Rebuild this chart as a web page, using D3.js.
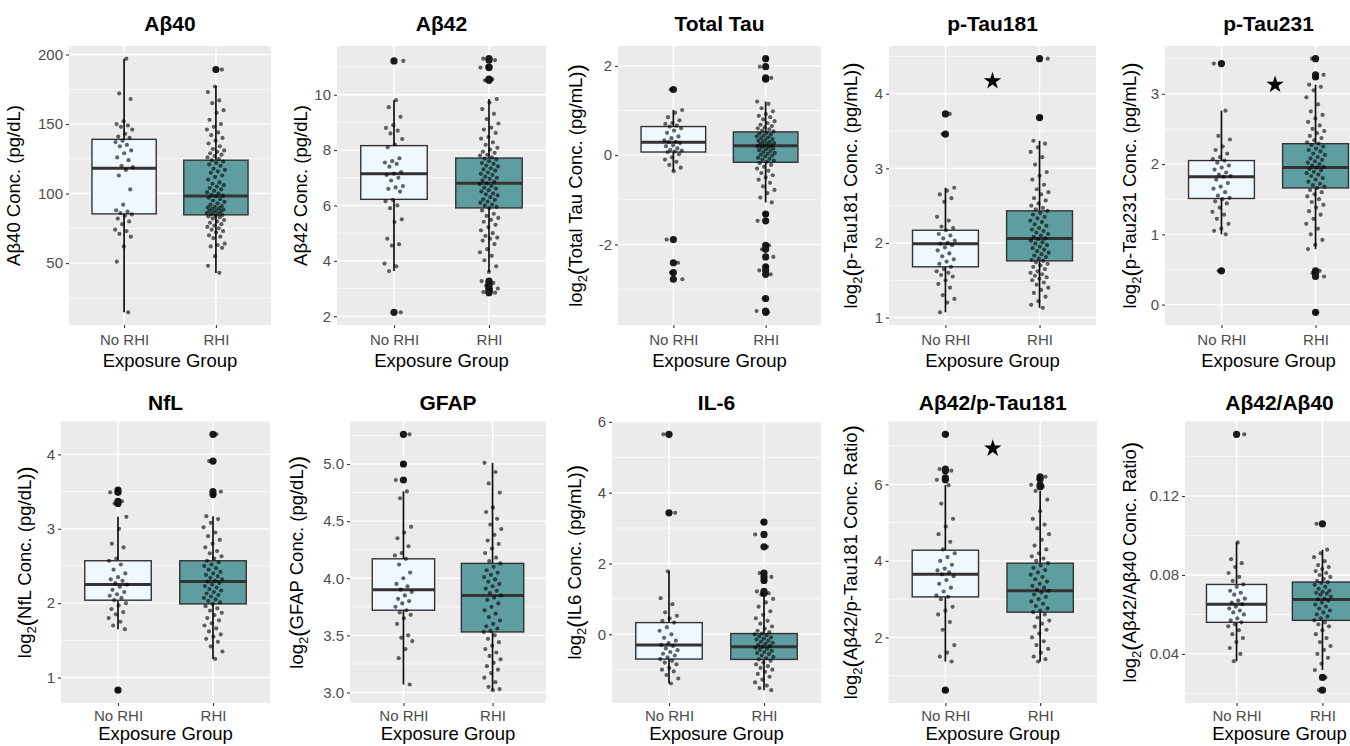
<!DOCTYPE html>
<html>
<head>
<meta charset="utf-8">
<script src="https://cdn.jsdelivr.net/npm/d3@7"></script>
<style>
  body { margin: 0; background: #fff; }
  text { font-family: "Liberation Sans", Arial, Helvetica, sans-serif; }
</style>
</head>
<body>
<script>
// ---- categories / labels ----
const groups = ["No RHI", "RHI"];
const titles = ["Aβ40", "Aβ42", "Total Tau", "p-Tau181", "p-Tau231",
                "NfL", "GFAP", "IL-6", "Aβ42/p-Tau181", "Aβ42/Aβ40"];
const yLabelText = ["Aβ40 Conc. (pg/dL)", "Aβ42 Conc. (pg/dL)", "Total Tau Conc. (pg/mL)",
                    "p-Tau181 Conc. (pg/mL)", "p-Tau231 Conc. (pg/mL)", "NfL Conc. (pg/dL)",
                    "GFAP Conc. (pg/dL)", "IL6 Conc. (pg/mL)", "Aβ42/p-Tau181 Conc. Ratio",
                    "Aβ42/Aβ40 Conc. Ratio"];
const yLabelLog = [false, false, true, true, true, true, true, true, true, true];
const yTicks = [[50, 100, 150, 200], [2, 4, 6, 8, 10], [-2, 0, 2], [1, 2, 3, 4], [0, 1, 2, 3],
                [1, 2, 3, 4], [3.0, 3.5, 4.0, 4.5, 5.0], [0, 2, 4, 6], [2, 4, 6], [0.04, 0.08, 0.12]];
const tickDecimals = [0, 0, 0, 0, 0, 0, 1, 0, 0, 2];

// ---- box stats: [lower whisker, q1, median, q3, upper whisker] per group ----
const box_ab40 = [[14.6, 85.4, 118.2, 139, 197], [42.9, 84.7, 98.3, 124, 177.3]];
const box_ab42 = [[3.63, 6.22, 7.14, 8.16, 9.8], [3.6, 5.91, 6.8, 7.71, 9.84]];
const box_ttau = [[-0.36, 0.07, 0.29, 0.64, 1.01], [-1.06, -0.16, 0.21, 0.52, 1.2]];
const box_pt181 = [[1.07, 1.68, 1.99, 2.17, 2.74], [1.13, 1.76, 2.06, 2.43, 3.37]];
const box_pt231 = [[1.0, 1.51, 1.82, 2.05, 2.76], [0.79, 1.66, 1.95, 2.29, 3.13]];
const box_nfl = [[1.65, 2.04, 2.25, 2.57, 3.16], [1.25, 1.99, 2.29, 2.57, 3.17]];
const box_gfap = [[3.07, 3.72, 3.9, 4.17, 4.76], [3.02, 3.53, 3.85, 4.13, 5.01]];
const box_il6 = [[-1.39, -0.7, -0.3, 0.33, 1.78], [-1.58, -0.71, -0.35, 0.02, 1.12]];
const box_r181 = [[1.37, 3.06, 3.65, 4.28, 5.98], [1.37, 2.66, 3.22, 3.94, 5.83]];
const box_r4240 = [[0.0363, 0.056, 0.0652, 0.0752, 0.0965], [0.0318, 0.057, 0.0676, 0.0764, 0.0928]];

// ---- outliers per group ----
const out_ab40 = [[], [189.2]];
const out_ab42 = [[11.22, 2.14], [11.3, 11.25, 11.0, 10.98, 10.56, 10.52, 3.27, 3.2, 3.1, 3.0, 2.95, 2.87, 2.85]];
const out_ttau = [[1.47, -1.89, -2.41, -2.63, -2.78],
                  [2.16, 1.98, 1.73, 1.7, -1.32, -1.47, -2.02, -2.11, -2.28, -2.5, -2.58, -2.67, -3.21, -3.49, -3.52]];
const out_pt181 = [[3.73, 3.46], [4.47, 3.68]];
const out_pt231 = [[3.43, 0.48], [3.5, 3.27, 3.24, 0.48, 0.45, 0.4, -0.11]];
const out_nfl = [[3.52, 3.49, 3.37, 3.34, 0.83], [4.27, 3.91, 3.5, 3.46]];
const out_gfap = [[5.26, 5.0, 4.86], []];
const out_il6 = [[5.65, 3.43], [3.17, 2.82, 2.47, 1.73, 1.62, 1.52, 1.21, 1.16]];
const out_r181 = [[7.31, 6.4, 6.36, 6.17, 6.12, 0.62], [6.2, 6.14, 5.99, 5.94]];
const out_r4240 = [[0.1513], [0.1059, 0.0281, 0.0216]];

// ---- individual (jittered) observations ----
const ab40_no = [197, 172, 168, 152, 150, 149, 148, 146, 143, 141, 140, 138, 137, 135, 134, 131, 129, 126, 124, 120,
  119, 117, 113, 103, 92, 88, 87, 86, 85, 84, 82, 80, 78, 74, 73, 71, 69, 62, 51, 14.6];
const ab40_rhi = [189.2, 177, 173, 167, 165, 160, 158, 153, 150, 148, 146, 144, 142, 140, 138, 136, 134, 132, 131, 130,
  129, 128, 127, 126, 125, 124, 123, 122, 121, 120, 118, 117, 116, 115, 113, 112, 110, 108, 107, 106, 105, 104, 103,
  102, 101, 100, 99, 98.5, 98, 97, 96, 95, 94, 93, 92, 91, 90.5, 90, 89.5, 89, 88.5, 88, 87.5, 87, 86.5, 86, 85.5, 85,
  84.5, 84, 83.5, 83, 82, 81, 80, 79, 78, 77, 76, 75, 74, 73, 72, 70, 69, 68, 64, 63, 62, 61, 55, 48, 43];
const ab42_no = [11.22, 9.8, 9.55, 9.2, 8.9, 8.8, 8.7, 8.6, 8.4, 8.2, 8.1, 7.7, 7.6, 7.55, 7.5, 7.4, 7.2, 7.15, 7.1, 7.0,
  6.9, 6.7, 6.65, 6.6, 6.5, 6.2, 6.15, 6.0, 5.9, 5.5, 5.4, 4.8, 4.6, 4.55, 3.9, 3.8, 3.63, 2.14];
const ab42_rhi = [11.3, 11.25, 11.0, 10.98, 10.56, 10.52, 9.84, 9.72, 9.48, 9.31, 9.12, 8.96, 8.81, 8.74, 8.62, 8.47,
  8.41, 8.28, 8.19, 8.08, 8.02, 7.94, 7.9, 7.83, 7.8, 7.74, 7.69, 7.66, 7.6, 7.53, 7.5, 7.44, 7.41, 7.34, 7.3, 7.26,
  7.19, 7.14, 7.1, 7.04, 7.0, 6.96, 6.9, 6.86, 6.8, 6.77, 6.7, 6.64, 6.61, 6.55, 6.5, 6.43, 6.4, 6.36, 6.3, 6.22,
  6.2, 6.14, 6.1, 6.03, 6.0, 5.95, 5.9, 5.82, 5.7, 5.62, 5.55, 5.48, 5.41, 5.3, 5.22, 5.1, 5.0, 4.9, 4.84, 4.8,
  4.73, 4.6, 4.42, 4.31, 4.18, 4.02, 3.8, 3.6, 3.27, 3.2, 3.1, 3.0, 2.95, 2.87, 2.85];
const ttau_no = [1.47, 1.01, 0.95, 0.85, 0.78, 0.72, 0.7, 0.66, 0.64, 0.6, 0.55, 0.5, 0.42, 0.38, 0.33, 0.3, 0.29,
  0.27, 0.22, 0.2, 0.15, 0.12, 0.1, 0.08, 0.07, 0.02, -0.05, -0.1, -0.15, -0.22, -0.28, -0.36, -1.89, -2.41, -2.63, -2.78];
const ttau_rhi = [2.16, 1.98, 1.73, 1.7, 1.2, 1.15, 1.05, 0.98, 0.92, 0.88, 0.85, 0.8, 0.76, 0.72, 0.68, 0.65, 0.62,
  0.6, 0.58, 0.55, 0.53, 0.5, 0.48, 0.46, 0.44, 0.42, 0.4, 0.38, 0.36, 0.34, 0.32, 0.3, 0.29, 0.27, 0.26, 0.24, 0.22,
  0.21, 0.2, 0.18, 0.17, 0.15, 0.13, 0.11, 0.09, 0.07, 0.05, 0.03, 0.01, -0.01, -0.03, -0.06, -0.08, -0.1, -0.12,
  -0.15, -0.18, -0.22, -0.26, -0.3, -0.35, -0.4, -0.45, -0.5, -0.55, -0.62, -0.7, -0.78, -0.85, -0.95, -1.06, -1.32,
  -1.47, -2.02, -2.11, -2.28, -2.5, -2.58, -2.67, -3.21, -3.49, -3.52];
const pt181_no = [3.73, 3.46, 2.74, 2.7, 2.65, 2.6, 2.55, 2.35, 2.3, 2.22, 2.2, 2.17, 2.12, 2.1, 2.06, 2.03, 2.0, 1.99,
  1.97, 1.94, 1.9, 1.86, 1.82, 1.78, 1.75, 1.72, 1.68, 1.65, 1.62, 1.6, 1.57, 1.55, 1.5, 1.45, 1.4, 1.3, 1.25, 1.2, 1.07];
const pt181_rhi = [4.47, 3.68, 3.37, 3.33, 3.28, 3.22, 3.15, 3.05, 2.95, 2.9, 2.85, 2.78, 2.72, 2.68, 2.65, 2.6, 2.57,
  2.53, 2.5, 2.47, 2.45, 2.43, 2.4, 2.38, 2.35, 2.33, 2.3, 2.28, 2.25, 2.23, 2.2, 2.18, 2.16, 2.14, 2.12, 2.1, 2.08,
  2.06, 2.05, 2.03, 2.01, 1.99, 1.97, 1.95, 1.93, 1.91, 1.89, 1.87, 1.85, 1.83, 1.81, 1.79, 1.77, 1.76, 1.74, 1.72,
  1.7, 1.68, 1.65, 1.62, 1.6, 1.58, 1.56, 1.54, 1.52, 1.5, 1.47, 1.44, 1.4, 1.37, 1.33, 1.28, 1.22, 1.17, 1.13];
const pt231_no = [3.43, 2.76, 2.4, 2.35, 2.25, 2.2, 2.15, 2.1, 2.07, 2.05, 2.02, 1.98, 1.95, 1.92, 1.88, 1.85, 1.83,
  1.82, 1.78, 1.73, 1.68, 1.65, 1.6, 1.55, 1.52, 1.5, 1.47, 1.44, 1.38, 1.32, 1.28, 1.22, 1.15, 1.08, 1.05, 1.0, 0.48];
const pt231_rhi = [3.5, 3.27, 3.24, 3.13, 3.1, 3.05, 2.95, 2.85, 2.75, 2.7, 2.65, 2.6, 2.55, 2.5, 2.47, 2.44, 2.4,
  2.37, 2.34, 2.31, 2.29, 2.27, 2.25, 2.22, 2.2, 2.18, 2.15, 2.13, 2.1, 2.08, 2.06, 2.04, 2.02, 2.0, 1.98, 1.96, 1.95,
  1.93, 1.91, 1.89, 1.87, 1.85, 1.83, 1.8, 1.78, 1.75, 1.72, 1.7, 1.68, 1.66, 1.63, 1.6, 1.57, 1.54, 1.5, 1.46, 1.42,
  1.38, 1.33, 1.28, 1.22, 1.15, 1.08, 1.0, 0.92, 0.85, 0.79, 0.48, 0.45, 0.4, -0.11];
const nfl_no = [3.52, 3.49, 3.37, 3.34, 3.16, 3.0, 2.8, 2.75, 2.6, 2.57, 2.52, 2.45, 2.4, 2.35, 2.32, 2.3, 2.27, 2.25,
  2.22, 2.18, 2.15, 2.12, 2.1, 2.07, 2.04, 2.0, 1.97, 1.92, 1.88, 1.85, 1.8, 1.75, 1.7, 1.65, 0.83];
const nfl_rhi = [4.27, 3.91, 3.5, 3.46, 3.17, 3.13, 3.08, 3.02, 2.95, 2.9, 2.85, 2.8, 2.75, 2.7, 2.67, 2.63, 2.6, 2.57,
  2.55, 2.52, 2.5, 2.47, 2.45, 2.42, 2.4, 2.38, 2.36, 2.34, 2.32, 2.3, 2.29, 2.27, 2.25, 2.23, 2.21, 2.19, 2.17, 2.15,
  2.13, 2.11, 2.09, 2.07, 2.05, 2.03, 2.01, 1.99, 1.96, 1.93, 1.9, 1.87, 1.84, 1.8, 1.77, 1.73, 1.7, 1.66, 1.62, 1.58,
  1.55, 1.52, 1.48, 1.42, 1.35, 1.25];
const gfap_no = [5.26, 5.0, 4.86, 4.76, 4.7, 4.45, 4.4, 4.35, 4.28, 4.22, 4.2, 4.17, 4.12, 4.05, 4.0, 3.95, 3.93, 3.9,
  3.88, 3.85, 3.82, 3.8, 3.78, 3.75, 3.72, 3.7, 3.68, 3.65, 3.6, 3.5, 3.48, 3.45, 3.38, 3.3, 3.07];
const gfap_rhi = [5.01, 4.93, 4.83, 4.75, 4.62, 4.58, 4.52, 4.47, 4.43, 4.38, 4.33, 4.3, 4.26, 4.22, 4.18, 4.15, 4.13,
  4.1, 4.07, 4.05, 4.03, 4.01, 3.99, 3.97, 3.95, 3.93, 3.91, 3.89, 3.87, 3.85, 3.83, 3.81, 3.78, 3.75, 3.72, 3.69,
  3.66, 3.63, 3.6, 3.58, 3.56, 3.54, 3.53, 3.5, 3.47, 3.44, 3.41, 3.38, 3.35, 3.32, 3.29, 3.26, 3.23, 3.2, 3.17, 3.13,
  3.09, 3.05, 3.03, 3.02];
const il6_no = [5.65, 3.43, 1.78, 1.02, 0.85, 0.62, 0.52, 0.45, 0.38, 0.33, 0.2, 0.1, 0.0, -0.1, -0.18, -0.25, -0.3,
  -0.33, -0.4, -0.45, -0.5, -0.55, -0.6, -0.65, -0.7, -0.75, -0.8, -0.85, -0.95, -1.0, -1.05, -1.15, -1.25, -1.39];
const il6_rhi = [3.17, 2.82, 2.47, 1.73, 1.62, 1.52, 1.21, 1.16, 1.12, 1.0, 0.9, 0.78, 0.65, 0.55, 0.45, 0.38, 0.3,
  0.22, 0.16, 0.1, 0.06, 0.02, 0.0, -0.03, -0.06, -0.09, -0.12, -0.15, -0.18, -0.21, -0.24, -0.27, -0.3, -0.33, -0.35,
  -0.38, -0.41, -0.44, -0.47, -0.5, -0.53, -0.56, -0.6, -0.64, -0.68, -0.71, -0.75, -0.8, -0.85, -0.9, -0.95, -1.0,
  -1.06, -1.12, -1.2, -1.28, -1.36, -1.45, -1.52, -1.58];
const r181_no = [7.31, 6.4, 6.36, 6.17, 6.12, 5.98, 5.5, 5.1, 4.9, 4.7, 4.5, 4.3, 4.2, 4.1, 4.0, 3.9, 3.8, 3.75, 3.7,
  3.65, 3.6, 3.5, 3.4, 3.3, 3.2, 3.1, 3.06, 3.0, 2.8, 2.7, 2.6, 2.4, 2.2, 1.8, 1.6, 1.5, 1.37, 0.62];
const r181_rhi = [6.2, 6.14, 5.99, 5.94, 5.83, 5.6, 5.3, 5.1, 4.95, 4.85, 4.7, 4.55, 4.4, 4.3, 4.2, 4.12, 4.06, 4.0,
  3.94, 3.88, 3.82, 3.76, 3.7, 3.64, 3.58, 3.52, 3.46, 3.4, 3.35, 3.3, 3.25, 3.22, 3.18, 3.12, 3.06, 3.0, 2.94, 2.88,
  2.82, 2.76, 2.7, 2.66, 2.6, 2.52, 2.44, 2.36, 2.28, 2.2, 2.1, 2.0, 1.9, 1.8, 1.7, 1.6, 1.5, 1.43, 1.37];
const r4240_no = [0.1513, 0.0965, 0.088, 0.086, 0.084, 0.081, 0.079, 0.077, 0.0752, 0.074, 0.072, 0.071, 0.07, 0.068,
  0.067, 0.066, 0.0652, 0.064, 0.063, 0.062, 0.061, 0.06, 0.058, 0.057, 0.056, 0.055, 0.054, 0.052, 0.05, 0.048,
  0.046, 0.043, 0.04, 0.0363];
const r4240_rhi = [0.1059, 0.0928, 0.091, 0.089, 0.087, 0.085, 0.084, 0.083, 0.082, 0.081, 0.08, 0.079, 0.078, 0.077,
  0.0764, 0.076, 0.075, 0.074, 0.073, 0.072, 0.0715, 0.071, 0.0705, 0.07, 0.069, 0.068, 0.0676, 0.067, 0.066, 0.065,
  0.064, 0.063, 0.062, 0.061, 0.06, 0.059, 0.058, 0.057, 0.056, 0.055, 0.054, 0.052, 0.05, 0.048, 0.046, 0.044, 0.042,
  0.04, 0.038, 0.035, 0.0318, 0.0281, 0.0216];

// significance stars: [panel, x position in category units, y value]
const stars = [[3, 1.5, 4.17], [4, 1.57, 3.13], [8, 1.5, 6.94]];

const boxes = [box_ab40, box_ab42, box_ttau, box_pt181, box_pt231, box_nfl, box_gfap, box_il6, box_r181, box_r4240];
const outliers = [out_ab40, out_ab42, out_ttau, out_pt181, out_pt231, out_nfl, out_gfap, out_il6, out_r181, out_r4240];
const points = [[ab40_no, ab40_rhi], [ab42_no, ab42_rhi], [ttau_no, ttau_rhi], [pt181_no, pt181_rhi],
                [pt231_no, pt231_rhi], [nfl_no, nfl_rhi], [gfap_no, gfap_rhi], [il6_no, il6_rhi],
                [r181_no, r181_rhi], [r4240_no, r4240_rhi]];

// panel geometry (plot area) + y label baseline x
const rows = [
  { t: 46, b: 325, title: 31, tick: 20, axis: 42.3 },
  { t: 421.5, b: 703, title: 409.5, tick: 18.3, axis: 36.7 }
];
const layout = [
  { l: 69, r: 271, yl: 20 }, { l: 337, r: 546, yl: 307 }, { l: 618, r: 821, yl: 582 },
  { l: 889, r: 1096, yl: 857 }, { l: 1165, r: 1372, yl: 1136 },
  { l: 61, r: 270, yl: 31 }, { l: 350, r: 546, yl: 303 }, { l: 612, r: 821, yl: 581 },
  { l: 888.5, r: 1097, yl: 857 }, { l: 1185, r: 1374, yl: 1136 }
];
const fills = ["#F0F8FF", "#5F9EA0"];

const svg = d3.select("body").append("svg")
  .attr("width", 1350)
  .attr("height", 746);

for (let i = 0; i < 10; i++) drawPanel(i);

function drawPanel(i) {
  const L = layout[i];
  const R = rows[i < 5 ? 0 : 1];
  const g = svg.append("g");

  const allVals = points[i][0].concat(points[i][1]);
  const ext = d3.extent(allVals);
  const pad = (ext[1] - ext[0]) * 0.05;
  const y = d3.scaleLinear().domain([ext[0] - pad, ext[1] + pad]).range([R.b, R.t]);
  const x = d3.scalePoint().domain(groups).range([L.l, L.r]).padding(0.6);
  const step = x.step();

  // panel background
  g.append("rect")
    .attr("x", L.l).attr("y", R.t)
    .attr("width", L.r - L.l).attr("height", R.b - R.t)
    .attr("fill", "#EBEBEB");

  // minor + major grid
  const tk = yTicks[i];
  const d = tk[1] - tk[0];
  const minors = [];
  for (let k = -1; k < tk.length + 1; k++) {
    const v = tk[0] + d * (k + 0.5);
    if (v > y.domain()[0] && v < y.domain()[1]) minors.push(v);
  }
  g.selectAll(".minor").data(minors).enter().append("line")
    .attr("x1", L.l).attr("x2", L.r)
    .attr("y1", v => y(v)).attr("y2", v => y(v))
    .attr("stroke", "#fff").attr("stroke-width", 0.7);
  g.selectAll(".major").data(tk).enter().append("line")
    .attr("x1", L.l).attr("x2", L.r)
    .attr("y1", v => y(v)).attr("y2", v => y(v))
    .attr("stroke", "#fff").attr("stroke-width", 1.4);
  g.selectAll(".vmajor").data(groups).enter().append("line")
    .attr("x1", c => x(c)).attr("x2", c => x(c))
    .attr("y1", R.t).attr("y2", R.b)
    .attr("stroke", "#fff").attr("stroke-width", 1.4);

  // boxplots
  const bw = step * 0.7;
  groups.forEach((grp, j) => {
    const s = boxes[i][j];
    const cx = x(grp);
    g.append("line")
      .attr("x1", cx).attr("x2", cx).attr("y1", y(s[3])).attr("y2", y(s[4]))
      .attr("stroke", "#111").attr("stroke-width", 1.7);
    g.append("line")
      .attr("x1", cx).attr("x2", cx).attr("y1", y(s[1])).attr("y2", y(s[0]))
      .attr("stroke", "#111").attr("stroke-width", 1.7);
    g.append("rect")
      .attr("x", cx - bw / 2).attr("y", y(s[3]))
      .attr("width", bw).attr("height", y(s[1]) - y(s[3]))
      .attr("fill", fills[j]).attr("stroke", "#333").attr("stroke-width", 1.4);
    g.append("line")
      .attr("x1", cx - bw / 2).attr("x2", cx + bw / 2)
      .attr("y1", y(s[2])).attr("y2", y(s[2]))
      .attr("stroke", "#333").attr("stroke-width", 3);
    g.selectAll(".out" + j).data(outliers[i][j]).enter().append("circle")
      .attr("cx", cx).attr("cy", v => y(v)).attr("r", 3.6)
      .attr("fill", "#1a1a1a");
  });

  // jittered points
  groups.forEach((grp, j) => {
    const cx = x(grp);
    g.selectAll(".pt" + j).data(points[i][j]).enter().append("circle")
      .attr("cx", (v, k) => {
        const f = ((k + 1) * 0.6180339 + i * 0.37 + j * 0.21) % 1;
        return cx + (f - 0.5) * 0.2 * step;
      })
      .attr("cy", v => y(v))
      .attr("r", 2.1)
      .attr("fill", "#000")
      .attr("fill-opacity", 0.6);
  });

  // stars
  stars.filter(s => s[0] === i).forEach(s => {
    g.append("path")
      .attr("d", d3.symbol(d3.symbolStar, 95)())
      .attr("transform", `translate(${x(groups[0]) + (s[1] - 1) * step},${y(s[2])})`)
      .attr("fill", "#000");
  });

  // y axis
  const yAxis = d3.axisLeft(y)
    .tickValues(tk)
    .tickSize(3)
    .tickPadding(3)
    .tickFormat(v => v.toFixed(tickDecimals[i]));
  const ya = g.append("g").attr("transform", `translate(${L.l},0)`).call(yAxis);
  ya.select(".domain").remove();
  ya.selectAll(".tick line").attr("stroke", "#333").attr("stroke-width", 1.1);
  ya.selectAll(".tick text").attr("fill", "#4D4D4D").style("font-size", "15px")
    .attr("font-family", null);

  // x axis
  const xAxis = d3.axisBottom(x).tickSize(3);
  const xa = g.append("g").attr("transform", `translate(0,${R.b})`).call(xAxis);
  xa.select(".domain").remove();
  xa.selectAll(".tick line").attr("stroke", "#333").attr("stroke-width", 1.1);
  xa.selectAll(".tick text").attr("fill", "#4D4D4D").style("font-size", "15px")
    .attr("font-family", null)
    .attr("y", R.tick).attr("dy", 0);

  // axis title
  g.append("text")
    .attr("x", (L.l + L.r) / 2).attr("y", R.b + R.axis)
    .attr("text-anchor", "middle")
    .style("font-size", "18.5px")
    .attr("fill", "#000")
    .text("Exposure Group");

  // y axis title
  const yt = g.append("text")
    .attr("transform", `translate(${L.yl},${(R.t + R.b) / 2}) rotate(-90)`)
    .attr("text-anchor", "middle")
    .style("font-size", "18.5px")
    .attr("fill", "#000");
  if (yLabelLog[i]) {
    yt.append("tspan").text("log");
    yt.append("tspan").attr("dy", 5).style("font-size", "13px").text("2");
    yt.append("tspan").attr("dy", -3).style("font-size", "22px").text("(");
    yt.append("tspan").attr("dy", -2).style("font-size", "18.5px").text(yLabelText[i]);
    yt.append("tspan").attr("dy", 2).style("font-size", "22px").text(")");
  } else {
    yt.text(yLabelText[i]);
  }

  // panel title
  g.append("text")
    .attr("x", (L.l + L.r) / 2).attr("y", R.title)
    .attr("text-anchor", "middle")
    .style("font-size", "21px")
    .style("font-weight", "bold")
    .text(titles[i]);
}
</script>
</body>
</html>
